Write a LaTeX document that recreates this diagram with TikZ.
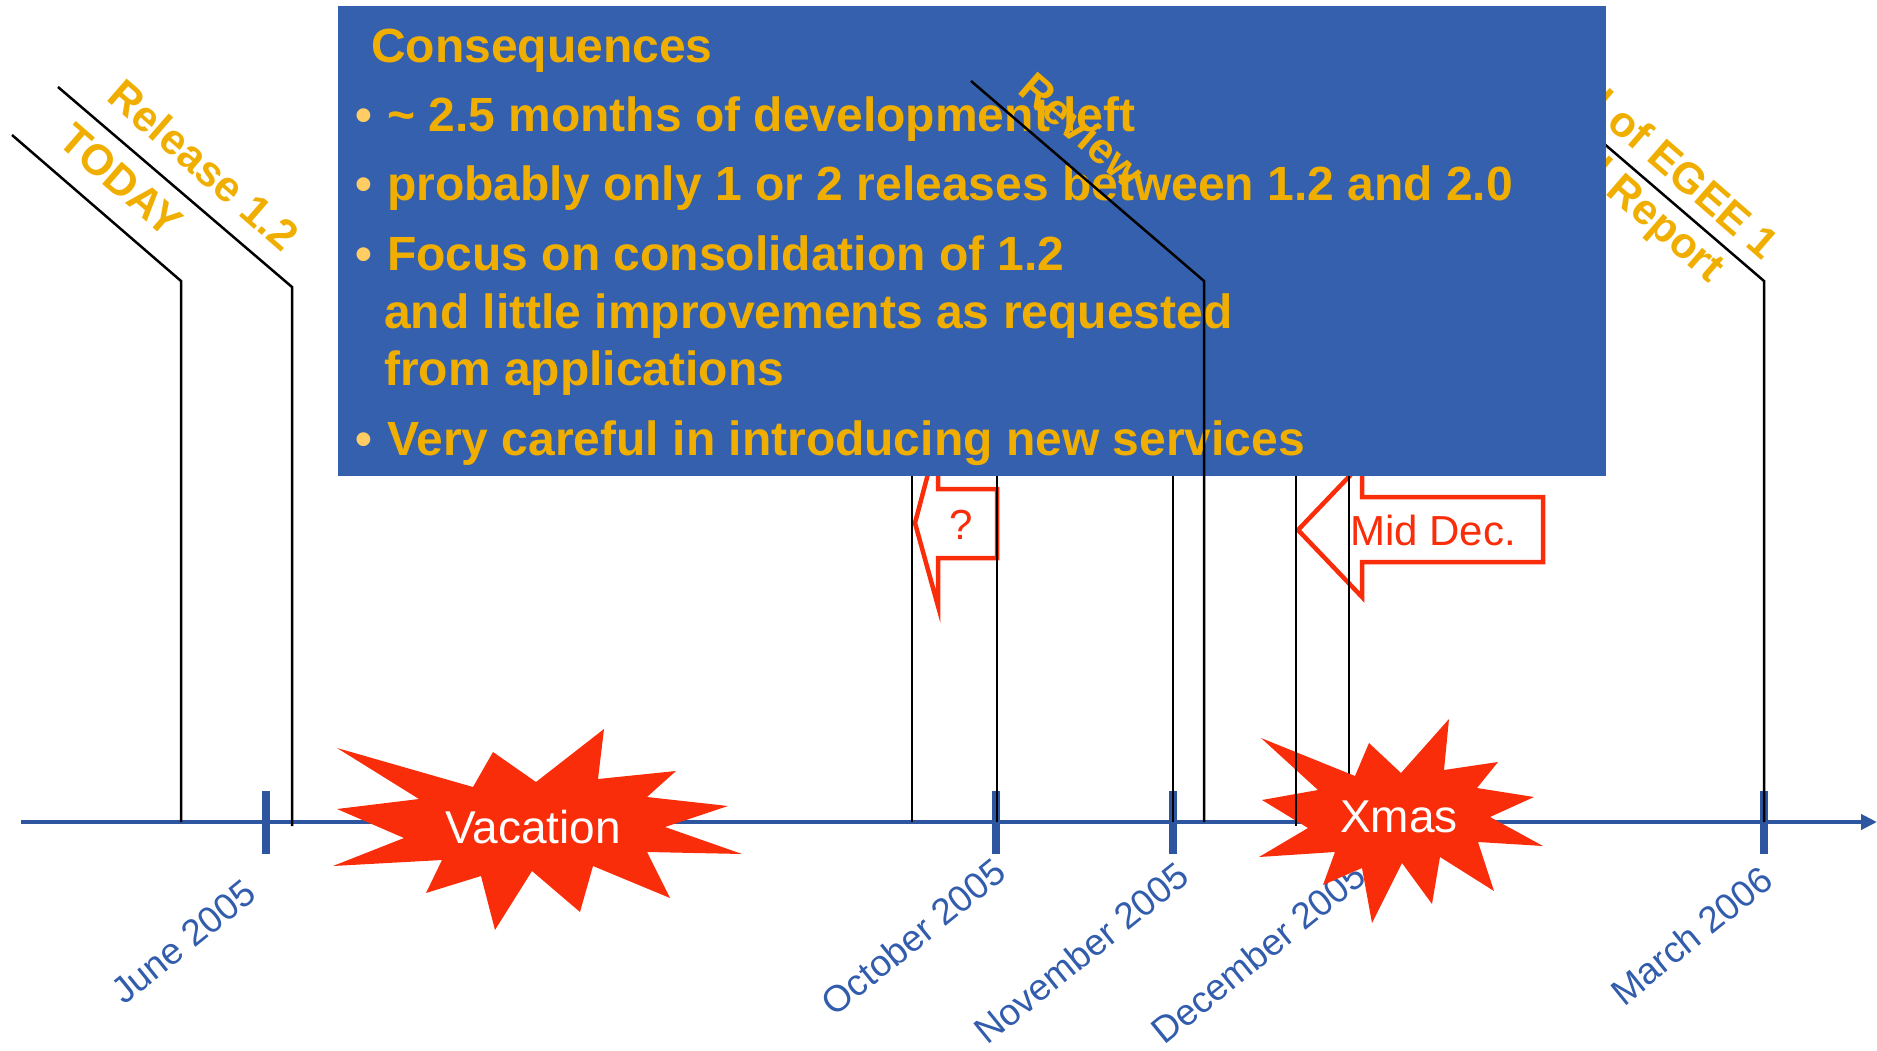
\documentclass[tikz,border=0pt]{standalone}
\usepackage{fontspec}
\setmainfont{Liberation Sans}
\usetikzlibrary{arrows.meta}
\definecolor{boxblue}{RGB}{52,96,174}
\definecolor{axisblue}{RGB}{46,86,160}
\definecolor{datblue}{RGB}{50,92,172}
\definecolor{gold}{RGB}{240,175,0}
\definecolor{bulletgold}{RGB}{255,205,100}
\definecolor{hotred}{RGB}{250,45,10}
\begin{document}
\begin{tikzpicture}[x=1pt,y=-1pt,
  axisline/.style={draw=axisblue,line width=4.5pt},
  tickmark/.style={draw=axisblue,line width=8pt},
  marker/.style={draw=black,line width=2.5pt,line join=miter},
  datelabel/.style={text=datblue,font=\fontsize{37}{40}\selectfont,rotate=39,anchor=base east,inner sep=0pt},
  evlabel/.style={text=gold,font=\bfseries\fontsize{43}{52}\selectfont,rotate=-41,inner sep=0pt,align=center},
  callout/.style={draw=hotred,line width=4.5pt,fill=white,line join=miter},
  calltext/.style={text=hotred,font=\fontsize{42}{45}\selectfont,inner sep=0pt},
  burst/.style={fill=hotred,draw=none},
  bursttext/.style={text=white,font=\fontsize{46}{50}\selectfont,inner sep=0pt},
  boxline/.style={text=gold,font=\bfseries\fontsize{48}{56}\selectfont,anchor=base west,inner sep=0pt},
  dot/.style={text=bulletgold,font=\bfseries\fontsize{48}{56}\selectfont,anchor=base west,inner sep=0pt},
]
\useasboundingbox (0,0) rectangle (1877,1051);

% axis
\coordinate (ax0) at (21,822);
\coordinate (ax1) at (1877,822);
\draw[axisline,-{Triangle[length=16pt,width=15pt]}] (ax0) -- (ax1);
\draw[tickmark] (266,791) -- (266,854);
\draw[tickmark] (996,791) -- (996,854);
\draw[tickmark] (1173,791) -- (1173,854);
\draw[tickmark] (1764,791) -- (1764,854);

% date labels
\node[datelabel] (dJun) at (259,897) {June 2005};
\node[datelabel] (dOct) at (1009,876) {October 2005};
\node[datelabel] (dNov) at (1192,880) {November 2005};
\node[datelabel] (dDec) at (1369,880) {December 2005};
\node[datelabel] (dMar) at (1776,884) {March 2006};

% event markers
\coordinate (todayA) at (12,135);
\coordinate (todayB) at (181,281);
\coordinate (todayC) at (181,822);
\draw[marker] (todayA) -- (todayB) -- (todayC);
\coordinate (relA) at (58,87);
\coordinate (relB) at (292,287);
\coordinate (relC) at (292,826);
\draw[marker] (relA) -- (relB) -- (relC);
\coordinate (egeeA) at (1531,81);
\coordinate (egeeB) at (1764,281);
\coordinate (egeeC) at (1764,822);
\draw[marker] (egeeA) -- (egeeB) -- (egeeC);

\node[evlabel] (today) at (121,180) {TODAY};
\node[evlabel] (rel) at (204,165) {Release 1.2};
\node[evlabel] (egee) at (1639,174) {End of EGEE 1\\Final Report};

% callouts
\draw[callout] (915,523) -- (938,436) -- (938,489) -- (997,489) -- (997,558) -- (938,558) -- (938,606) -- cycle;
\node[calltext] (q) at (961,525) {?};
\draw[callout] (1298,530) -- (1362,463) -- (1362,497) -- (1543,497) -- (1543,562) -- (1362,562) -- (1362,597) -- cycle;
\node[calltext] (md) at (1433,530) {Mid Dec.};

% vertical markers under the box
\draw[marker] (912,420) -- (912,822);
\draw[marker] (997,420) -- (997,822);
\draw[marker] (1173,420) -- (1173,822);
\draw[marker] (1349,420) -- (1349,822);

% bursts
\fill[burst] (337,748) -- (473,787) -- (493,752) -- (536,782) -- (604,729) -- (598,779)
  -- (676,771) -- (647,797) -- (728,806) -- (665,827) -- (742,854) -- (647,852)
  -- (670,898) -- (593,866) -- (580,912) -- (532,871) -- (495,930) -- (481,876)
  -- (426,893) -- (442,860) -- (333,866) -- (404,838) -- (337,809) -- (419,799) -- cycle;
\node[bursttext] (vac) at (533,827) {Vacation};
\fill[burst] (1261,738) -- (1355,776) -- (1369,743) -- (1401,773) -- (1449,719) -- (1444,770)
  -- (1498,762) -- (1477,788) -- (1534,797) -- (1490,817) -- (1543,846) -- (1478,842)
  -- (1494,891) -- (1440,857) -- (1432,904) -- (1402,863) -- (1372,923) -- (1362,868)
  -- (1323,885) -- (1335,852) -- (1259,857) -- (1308,828) -- (1262,800) -- (1318,790) -- cycle;
\node[bursttext] (xmas) at (1399,817) {Xmas};
\draw[marker] (1296,420) -- (1296,826);

% consequences box
\node[fill=boxblue,minimum width=1268pt,minimum height=470pt,anchor=north west,inner sep=0pt] (box) at (338,6) {};
\node[boxline] (title) at (371,63) {Consequences};
\node[dot] (d1) at (355,132) {•};
\node[boxline] (b1) at (387,132) {\textasciitilde\ 2.5 months of development left};
\node[dot] (d2) at (355,201) {•};
\node[boxline] (b2) at (387,201) {probably only 1 or 2 releases between 1.2 and 2.0};
\node[dot] (d3) at (355,270) {•};
\node[boxline] (b3) at (387,270) {Focus on consolidation of 1.2};
\node[boxline] (b3b) at (384,328) {and little improvements as requested};
\node[boxline] (b3c) at (384,385) {from applications};
\node[dot] (d4) at (355,455) {•};
\node[boxline] (b4) at (387,455) {Very careful in introducing new services};

% review marker over the box
\coordinate (revA) at (971,81);
\coordinate (revB) at (1204,281);
\coordinate (revC) at (1204,822);
\draw[marker] (revA) -- (revB) -- (revC);
\node[evlabel] (review) at (1082,130) {Review};
\end{tikzpicture}
\end{document}
